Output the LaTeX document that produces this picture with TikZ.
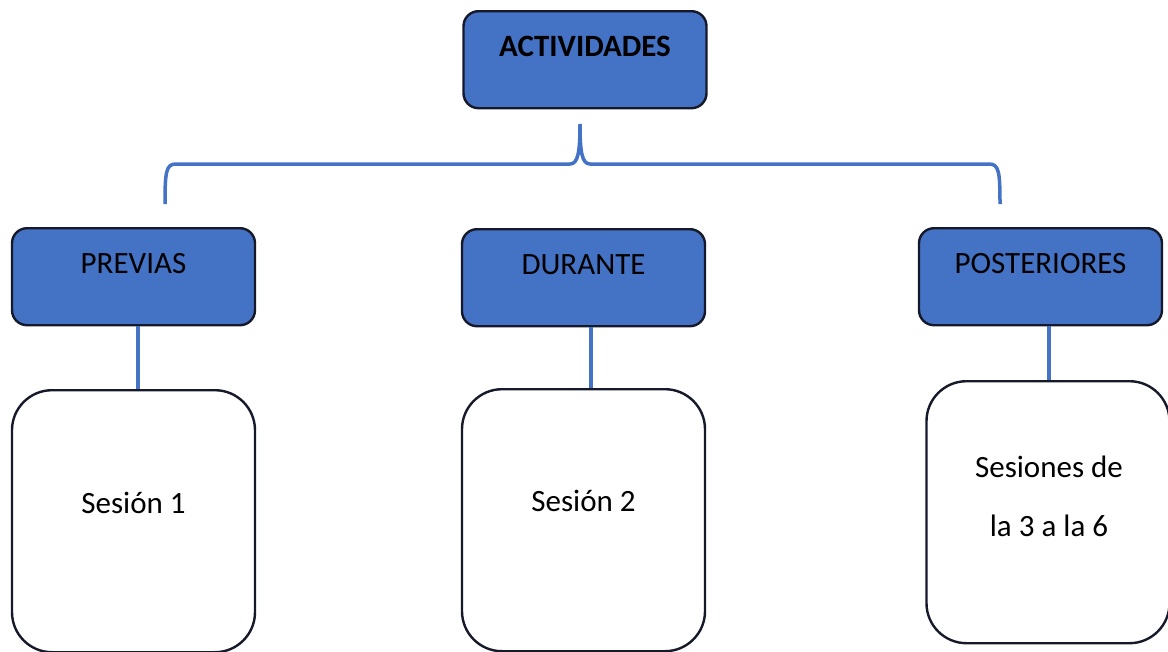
\documentclass[tikz,border=0pt]{standalone}
\usepackage{fontspec}
\setmainfont{Carlito}
\definecolor{boxblue}{HTML}{4472C4}
\definecolor{edge}{HTML}{15192A}
\tikzset{
  hbox/.style={draw=edge, line width=2.4pt, fill=boxblue, rounded corners=15pt,
    minimum width=243pt, minimum height=97pt, inner sep=0pt, anchor=north,
    text height=20pt, text depth=27pt, font=\fontsize{31}{37}\selectfont},
  sbox/.style={draw=edge, line width=2.4pt, fill=white, rounded corners=40pt,
    minimum width=243pt, minimum height=262pt, inner sep=0pt, anchor=north},
  txt/.style={font=\fontsize{31}{59}\selectfont, align=center, inner sep=0pt},
  link/.style={draw=boxblue, line width=3.5pt}
}
\begin{document}
\begin{tikzpicture}[x=1pt,y=-1pt]
\useasboundingbox (0,0) rectangle (1168,651);
\fill[white] (0,0) rectangle (1168,651);
% top
\node[hbox] (act) at (585,10) {\bfseries ACTIVIDADES};
% brace
\coordinate (tip) at (580,124);
\coordinate (bl) at (165,204);
\coordinate (br) at (1000,204);
\draw[link, line width=3.5pt] (bl) .. controls (165,172) and (166,164) .. (176,164) -- (570,164)
  .. controls (578,164) and (580,152) .. (tip)
  .. controls (580,152) and (582,164) .. (590,164) -- (989,164)
  .. controls (999,164) and (1000,172) .. (br);
% second level
\node[hbox] (pv) at (133.5,227) {PREVIAS};
\node[hbox] (du) at (583.5,228) {DURANTE};
\node[hbox] (po) at (1040.5,227) {POSTERIORES};
% sessions
\node[sbox] (s1) at (133.5,389) {};
\node[sbox] (s2) at (583.5,388) {};
\node[sbox] (s3) at (1048,380) {};
\node[txt] (t1) at (133.5,503) {Sesión 1};
\node[txt] (t2) at (583.5,501) {Sesión 2};
\node[txt] (t3) at (1049,496) {Sesiones de\\la 3 a la 6};
% links
\draw[link] ([xshift=4.5pt]pv.south) -- ([xshift=4.5pt]s1.north);
\draw[link] ([xshift=7.5pt]du.south) -- ([xshift=7.5pt]s2.north);
\draw[link] (s3.north -| 1049,0) -- (po.south -| 1049,0);
\end{tikzpicture}
\end{document}
